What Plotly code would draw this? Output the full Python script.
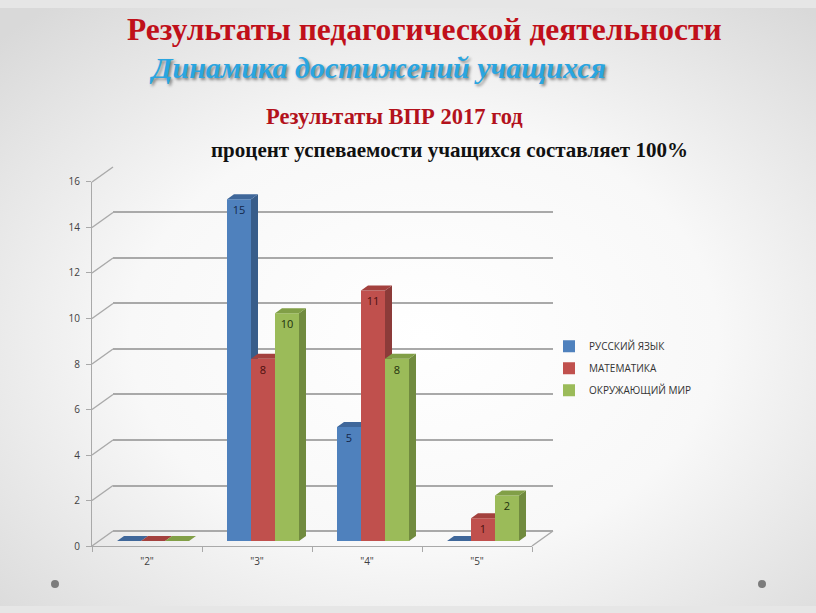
import base64
import plotly.graph_objects as go

# ---------------- data ----------------
categories = ['"2"', '"3"', '"4"', '"5"']
series_names = ["РУССКИЙ ЯЗЫК", "МАТЕМАТИКА", "ОКРУЖАЮЩИЙ МИР"]
russian = [0, 15, 5, 0]
math = [0, 8, 11, 1]
world = [0, 10, 8, 2]
y_ticks = [0, 2, 4, 6, 8, 10, 12, 14, 16]

title_main = "Результаты педагогической деятельности"
title_sub = "Динамика достижений учащихся"
title_vpr = "Результаты ВПР 2017 год"
title_note = "процент успеваемости учащихся составляет 100%"

# ---------------- geometry / style ----------------
W, H = 816, 613
# the captured page is slightly compressed vertically; compensate
OY, SY = 7.8, 0.974
def px(x):
    return x / W
def py(y):
    return 1 - ((y - OY) / SY) / H

FRONT = dict(x0=92, x1=532, y0=545, ytop=181.5)
BACK_DX, BACK_DY = 21, -15
BARS = dict(x0=98, x1=538, y0=540, ytop=176)
YMAX = 16

front_cols = ["#4F81BD", "#C0504D", "#9BBB59"]
side_cols = ["#385D8A", "#8C3B39", "#718B3F"]
top_cols = ["#3F679A", "#A3413E", "#819F47"]
text_cols = ["#14274A", "#4A0F0E", "#22300D"]
grid_col = "#A9A9A9"

series = [russian, math, world]
ncat = len(categories)
cat_px = (BARS["x1"] - BARS["x0"]) / ncat
unit_px = (BARS["y0"] - BARS["ytop"]) / YMAX
bw = 24 / cat_px
ddx = 7 / cat_px
ddy = 5 / unit_px

fig = go.Figure()

# helper subplots (empty traces so the subplots exist)
fig.add_trace(go.Scatter(x=[], y=[], xaxis="x2", yaxis="y2", showlegend=False, hoverinfo="skip"))
fig.add_trace(go.Scatter(x=[], y=[], xaxis="x3", yaxis="y3", showlegend=False, hoverinfo="skip"))

xs = list(range(ncat))
for s, (vals, name) in enumerate(zip(series, series_names)):
    ax = str(4 + s)
    off = -1.5 * bw + s * bw
    fig.add_trace(go.Bar(
        x=xs, y=vals, width=bw, offset=off, name=name,
        marker=dict(color=front_cols[s], line=dict(width=0)),
        text=[str(v) if v else "" for v in vals],
        textposition="inside", insidetextanchor="end",
        textfont=dict(family="Open Sans", size=11, color=text_cols[s]),
        textangle=0,
        xaxis="x" + ax, yaxis="y" + ax, legendgroup=name,
    ))
    sx, sy, tx, ty = [], [], [], []
    for k, v in zip(xs, vals):
        xl = k + off
        xr = xl + bw
        sx += [xr, xr, xr + ddx, xr + ddx, xr, None]
        sy += [0, v, v + ddy, ddy, 0, None]
        tx += [xl, xr, xr + ddx, xl + ddx, xl, None]
        ty += [v, v, v + ddy, v + ddy, v, None]
    fig.add_trace(go.Scatter(x=sx, y=sy, mode="lines", fill="toself", fillcolor=side_cols[s],
                             line=dict(width=0, color=side_cols[s]), showlegend=False,
                             hoverinfo="skip", xaxis="x" + ax, yaxis="y" + ax))
    fig.add_trace(go.Scatter(x=tx, y=ty, mode="lines", fill="toself", fillcolor=top_cols[s],
                             line=dict(width=0, color=top_cols[s]), showlegend=False,
                             hoverinfo="skip", xaxis="x" + ax, yaxis="y" + ax))

layout_axes = {}
# back wall gridlines
layout_axes["xaxis2"] = dict(domain=[px(FRONT["x0"] + BACK_DX), px(FRONT["x1"] + BACK_DX)], anchor="y2",
                             range=[-0.5, ncat - 0.5], showgrid=False, zeroline=False,
                             showticklabels=False, showline=False, ticks="")
layout_axes["yaxis2"] = dict(domain=[py(FRONT["y0"] + BACK_DY), py(FRONT["ytop"] + BACK_DY)], anchor="x2",
                             range=[0, YMAX], tickvals=y_ticks, showgrid=True, gridcolor=grid_col,
                             gridwidth=1.6, zeroline=True, zerolinecolor=grid_col, zerolinewidth=1.6,
                             showticklabels=False, showline=False, ticks="")
# front axes with labels
layout_axes["xaxis3"] = dict(domain=[px(FRONT["x0"]), px(FRONT["x1"])], anchor="y3",
                             range=[-0.5, ncat - 0.5], tickmode="array", tickvals=xs, ticktext=categories,
                             ticks="", showgrid=False, zeroline=False, showline=True, linecolor=grid_col,
                             linewidth=1.2, ticklabelstandoff=6,
                             tickfont=dict(family="Open Sans", size=10, color="#404040"),
                             minor=dict(tickmode="array", tickvals=[k - 0.5 for k in range(ncat + 1)],
                                        ticks="outside", ticklen=5, tickcolor=grid_col, tickwidth=1.2,
                                        showgrid=False))
layout_axes["yaxis3"] = dict(domain=[py(FRONT["y0"]), py(FRONT["ytop"])], anchor="x3",
                             range=[0, YMAX], tickvals=y_ticks, ticks="outside", ticklen=5,
                             tickcolor=grid_col, tickwidth=1.2, showgrid=False, zeroline=False,
                             showline=True, linecolor=grid_col, linewidth=1.2, ticklabelstandoff=4,
                             tickfont=dict(family="Open Sans", size=10, color="#404040"))
for s in range(3):
    ax = str(4 + s)
    layout_axes["xaxis" + ax] = dict(domain=[px(BARS["x0"]), px(BARS["x1"])], anchor="y" + ax,
                                     range=[-0.5, ncat - 0.5], visible=False, fixedrange=True)
    layout_axes["yaxis" + ax] = dict(domain=[py(BARS["y0"]), py(BARS["ytop"])], anchor="x" + ax,
                                     range=[0, YMAX], visible=False, fixedrange=True)

# shapes: connectors between front axis and back wall, floor right edge, slide dots
shapes = []
fu = (FRONT["y0"] - FRONT["ytop"]) / YMAX
for v in y_ticks:
    yf = FRONT["y0"] - v * fu
    shapes.append(dict(type="line", xref="paper", yref="paper",
                       x0=px(FRONT["x0"]), y0=py(yf), x1=px(FRONT["x0"] + BACK_DX), y1=py(yf + BACK_DY),
                       line=dict(color=grid_col, width=1.4), layer="below"))
shapes.append(dict(type="line", xref="paper", yref="paper",
                   x0=px(FRONT["x1"]), y0=py(FRONT["y0"]), x1=px(FRONT["x1"] + BACK_DX),
                   y1=py(FRONT["y0"] + BACK_DY), line=dict(color=grid_col, width=1.4), layer="below"))
for cx in (55, 762):
    shapes.append(dict(type="circle", xref="paper", yref="paper",
                       x0=px(cx - 4), x1=px(cx + 4), y0=py(583 + 4), y1=py(583 - 4),
                       fillcolor="#7C7C7C", line=dict(width=0)))

svg = ("<svg xmlns='http://www.w3.org/2000/svg' width='816' height='613'>"
       "<defs><radialGradient id='g' cx='52%' cy='55%' r='72%'>"
       "<stop offset='0' stop-color='#ffffff'/><stop offset='0.5' stop-color='#f8f8f8'/>"
       "<stop offset='1' stop-color='#d9d9d9'/></radialGradient></defs>"
       "<rect width='816' height='613' fill='url(#g)'/></svg>")
bg_uri = "data:image/svg+xml;base64," + base64.b64encode(svg.encode()).decode()

annotations = [
    dict(text="<b>" + title_main + "</b>", x=px(424), y=py(29), xref="paper", yref="paper",
         xanchor="center", yanchor="middle", showarrow=False,
         font=dict(family="Liberation Serif", size=31.5, color="#C0101A")),
    dict(text="<b><i>" + title_sub + "</i></b>", x=px(377), y=py(67), xref="paper", yref="paper",
         xanchor="center", yanchor="middle", showarrow=False,
         font=dict(family="Liberation Serif", size=30, color="#2AA5E0",
                   shadow="2px 2px 3px rgba(0,0,0,0.45)")),
    dict(text="<b>" + title_vpr + "</b>", x=px(394), y=py(116), xref="paper", yref="paper",
         xanchor="center", yanchor="middle", showarrow=False,
         font=dict(family="Liberation Serif", size=22.5, color="#B3121C")),
    dict(text="<b>" + title_note + "</b>", x=px(449), y=py(150), xref="paper", yref="paper",
         xanchor="center", yanchor="middle", showarrow=False,
         font=dict(family="Liberation Serif", size=21, color="#111111")),
]

fig.update_layout(
    width=W, height=H, autosize=False, margin=dict(l=0, r=0, t=0, b=0),
    paper_bgcolor="#e6e6e6", plot_bgcolor="rgba(0,0,0,0)",
    showlegend=True,
    legend=dict(x=px(549), y=py(331), xanchor="left", yanchor="top", bgcolor="rgba(0,0,0,0)",
                font=dict(family="Open Sans", size=10, color="#333333"),
                traceorder="grouped", tracegroupgap=3, itemwidth=30),
    images=[dict(source=bg_uri, xref="paper", yref="paper", x=0, y=1, sizex=1, sizey=1,
                 sizing="stretch", layer="below")],
    shapes=shapes, annotations=annotations,
    **layout_axes,
)

post = ("document.documentElement.style.background='#e4e4e4';"
        "document.body.style.background='#e4e4e4';"
        "document.body.style.margin='0';document.body.style.overflow='hidden';")
fig.write_html("out.html", config={"displayModeBar": False, "responsive": False},
               post_script=post)
